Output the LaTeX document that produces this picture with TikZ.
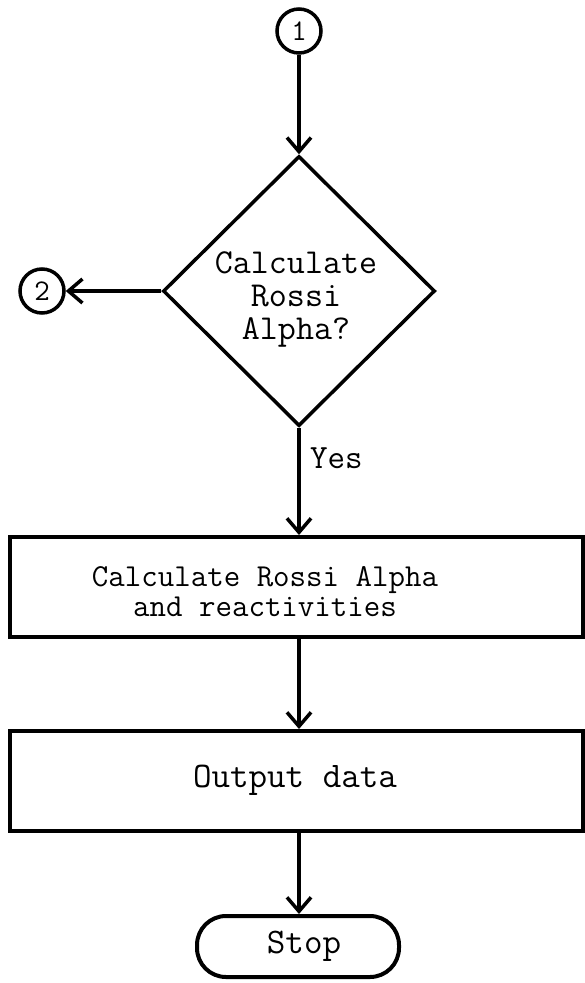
\documentclass[tikz,border=0pt]{standalone}
\usepackage{fontspec}
\usetikzlibrary{shapes.geometric,arrows.meta}
\begin{document}
\begin{tikzpicture}[x=1pt,y=-1pt,
  tw/.style 2 args={font=\ttfamily\addfontfeature{FakeBold=0.8}\fontsize{#1}{#2}\selectfont},
  connector/.style={draw, line width=3.5pt, minimum size=44pt, circle, inner sep=0pt, tw={30}{30}},
  decision/.style={draw, line width=3.5pt, diamond, minimum width=272pt, minimum height=270pt, inner sep=0pt},
  procbox/.style={draw, line width=4pt, rectangle, minimum width=573pt, minimum height=100pt, inner sep=0pt},
  terminal/.style={draw, line width=4pt, rectangle, rounded corners=29pt, minimum width=202pt, minimum height=61pt, inner sep=0pt},
  flow/.style={line width=3.5pt, -{Straight Barb[length=14pt,width=24pt,line width=3.5pt]}},
  every node/.style={align=center}]
\useasboundingbox (0,0) rectangle (585,983);

% connector circles
\node[connector] (c1) at (299,31) {1};
\node[connector] (c2) at (42,291) {2};

% decision
\node[decision] (ask) at (299,291) {};
\node[tw={35}{33}] (asktext) at (296,299) {Calculate\\Rossi\\Alpha?};

% process boxes
\node[procbox] (calc) at (296.5,587) {};
\node[tw={32}{30}] (calctext) at (265,592) {Calculate Rossi Alpha\\and reactivities};
\node[procbox] (out) at (296.5,781) {};
\node[tw={36}{36}] (outtext) at (295,780) {Output data};

% terminal
\node[terminal] (stop) at (298,946.5) {};
\node[tw={36}{36}] (stoptext) at (304,946) {Stop};

% connectors
\draw[flow] (c1.south) -- (ask.north);
\draw[flow] (ask.west) -- (c2.east);
\draw[flow] (ask.south) -- (ask.south |- calc.north)
  node[pos=0.28, anchor=west, tw={34}{34}, xshift=6pt] (yes) {Yes};
\draw[flow] (ask.south |- calc.south) -- (ask.south |- out.north);
\draw[flow] (ask.south |- out.south) -- (ask.south |- stop.north);
\end{tikzpicture}
\end{document}
